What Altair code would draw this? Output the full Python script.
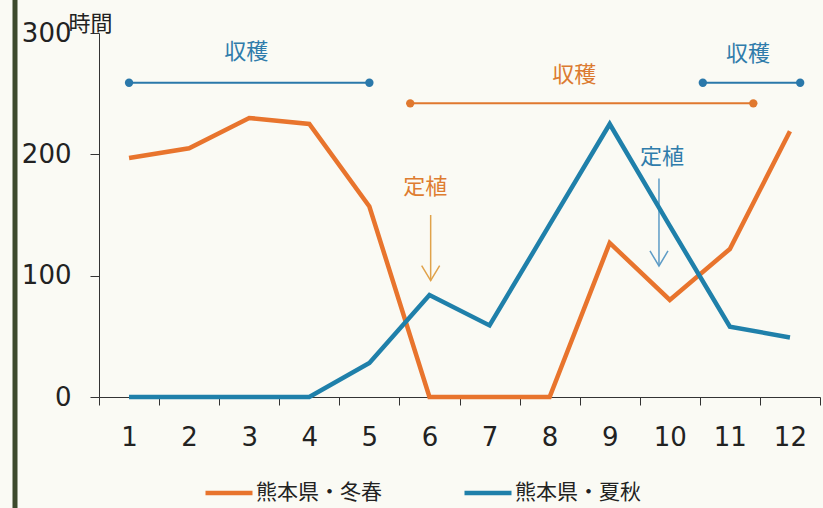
import altair as alt
import pandas as pd

# ---- data ----
months = list(range(1, 13))
winter_spring = [197, 205, 230, 225, 157, 0, 0, 0, 127, 80, 122, 219]   # 熊本県・冬春
summer_autumn = [0, 0, 0, 0, 28, 84, 59, 142, 225, 141, 58, 49]        # 熊本県・夏秋
series_names = ["熊本県・冬春", "熊本県・夏秋"]
series_colors = ["#e8742d", "#1f80aa"]

# harvest periods (収穫)
harvest_start = [1.0, 5.68, 10.55]
harvest_end = [5.0, 11.39, 12.17]
harvest_level = [259, 242, 259]
harvest_color = ["#2a78aa", "#e0782e", "#2a78aa"]
harvest_label_x = [2.95, 8.41, 11.3]
harvest_label_y = [284, 265, 283]
harvest_label_color = ["#2f7cab", "#dc7a30", "#2f7cab"]

# planting (定植)
plant_text_x = [5.93, 9.87]
plant_text_y = [173, 198]
plant_arrow_x = [6.02, 9.82]
plant_arrow_top = [150, 180]
plant_arrow_tip = [96, 108]
plant_text_color = ["#de7c30", "#2f7cab"]
plant_arrow_color = ["#e0a24a", "#5e9cc6"]

x_tick_values = [i + 0.5 for i in range(0, 13)]
y_tick_values = [0, 100, 200, 300]

# ---- tables ----
rows = []
for m, v in zip(months, winter_spring):
    rows.append({"month": m, "hours": v, "series": series_names[0]})
for m, v in zip(months, summer_autumn):
    rows.append({"month": m, "hours": v, "series": series_names[1]})
lines_df = pd.DataFrame(rows)

harvest_df = pd.DataFrame({
    "x": harvest_start, "x2": harvest_end, "y": harvest_level, "c": harvest_color,
    "lx": harvest_label_x, "ly": harvest_label_y, "lc": harvest_label_color,
    "txt": ["収穫"] * 3,
})
dots_df = pd.DataFrame({
    "x": harvest_start + harvest_end,
    "y": harvest_level + harvest_level,
    "c": harvest_color + harvest_color,
})
plant_df = pd.DataFrame({
    "tx": plant_text_x, "ty": plant_text_y, "ax": plant_arrow_x,
    "top": plant_arrow_top, "tip": plant_arrow_tip,
    "tc": plant_text_color, "ac": plant_arrow_color, "txt": ["定植"] * 2,
})

W, H = 721, 364
xscale = alt.Scale(domain=[0.5, 12.5], nice=False, zero=False)
yscale = alt.Scale(domain=[0, 300], nice=False)

x_axis = alt.Axis(
    values=x_tick_values,
    labelExpr="datum.value < 12 ? format(datum.value + 0.5, 'd') : ''",
    labelOffset=30, labelFontSize=26, labelFont="DejaVu Sans", labelColor="#222",
    labelPadding=19, tickSize=8, tickColor="#333", domainColor="#333",
    grid=False, title=None, labelFlush=False, labelOverlap=False,
)
y_axis = alt.Axis(
    values=y_tick_values, labelFontSize=26, labelFont="DejaVu Sans", labelColor="#222",
    labelPadding=19, tickSize=9, tickColor="#333", domainColor="#333", grid=False,
    title="時間", titleAngle=0, titleFont="Noto Sans CJK JP", titleFontSize=22,
    titleFontWeight="normal", titleColor="#222", titleX=-9, titleY=-3,
    titleAlign="center", titleBaseline="alphabetic",
)

lines = alt.Chart(lines_df).mark_line(strokeWidth=4.5, strokeJoin="miter").encode(
    x=alt.X("month:Q", scale=xscale, axis=x_axis),
    y=alt.Y("hours:Q", scale=yscale, axis=y_axis),
    color=alt.Color(
        "series:N",
        scale=alt.Scale(domain=series_names, range=series_colors),
        sort=series_names,
        legend=alt.Legend(
            title=None, orient="none", direction="horizontal",
            legendX=104, legendY=434,
            symbolType="stroke", symbolSize=2209, symbolStrokeWidth=4.5,
            labelFont="Noto Sans CJK JP", labelFontSize=21, labelColor="#222",
            labelOffset=1, columnPadding=73, labelLimit=300,
        ),
    ),
    detail="series:N",
)

harvest_lines = alt.Chart(harvest_df).mark_rule(strokeWidth=2).encode(
    x=alt.X("x:Q", scale=xscale), x2="x2:Q",
    y=alt.Y("y:Q", scale=yscale),
    color=alt.Color("c:N", scale=None),
)
harvest_dots = alt.Chart(dots_df).mark_circle(size=70, opacity=1).encode(
    x=alt.X("x:Q", scale=xscale), y=alt.Y("y:Q", scale=yscale),
    color=alt.Color("c:N", scale=None),
)
harvest_text = alt.Chart(harvest_df).mark_text(
    font="Noto Sans CJK JP", fontSize=22, baseline="middle", align="center"
).encode(
    x=alt.X("lx:Q", scale=xscale), y=alt.Y("ly:Q", scale=yscale),
    text="txt:N", color=alt.Color("lc:N", scale=None),
)
plant_text = alt.Chart(plant_df).mark_text(
    font="Noto Sans CJK JP", fontSize=22, baseline="middle", align="center"
).encode(
    x=alt.X("tx:Q", scale=xscale), y=alt.Y("ty:Q", scale=yscale),
    text="txt:N", color=alt.Color("tc:N", scale=None),
)
plant_shaft = alt.Chart(plant_df).mark_rule(strokeWidth=1.5).encode(
    x=alt.X("ax:Q", scale=xscale),
    y=alt.Y("top:Q", scale=yscale), y2="tip:Q",
    color=alt.Color("ac:N", scale=None),
)
plant_head = alt.Chart(plant_df).mark_point(
    shape="M -0.6 -1 L 0 0 L 0.6 -1", size=900, filled=False, strokeWidth=1.5, opacity=1
).encode(
    x=alt.X("ax:Q", scale=xscale), y=alt.Y("tip:Q", scale=yscale),
    color=alt.Color("ac:N", scale=None),
)

border = alt.Chart(pd.DataFrame({"k": [0]})).mark_rule(
    strokeWidth=5, color="#3d4a2c"
).encode(x=alt.value(-84), y=alt.value(-33), y2=alt.value(H + 111))

chart = alt.layer(
    border, harvest_lines, harvest_dots, harvest_text, plant_shaft, plant_head,
    plant_text, lines,
).resolve_scale(color="independent").properties(
    width=W, height=H,
    autosize=alt.AutoSizeParams(type="none"),
    padding={"left": 99, "top": 33, "right": 3, "bottom": 111},
    background="#fafaf4",
).configure_view(stroke=None)

chart.save("out.html", embed_options={"renderer": "svg", "actions": False})
